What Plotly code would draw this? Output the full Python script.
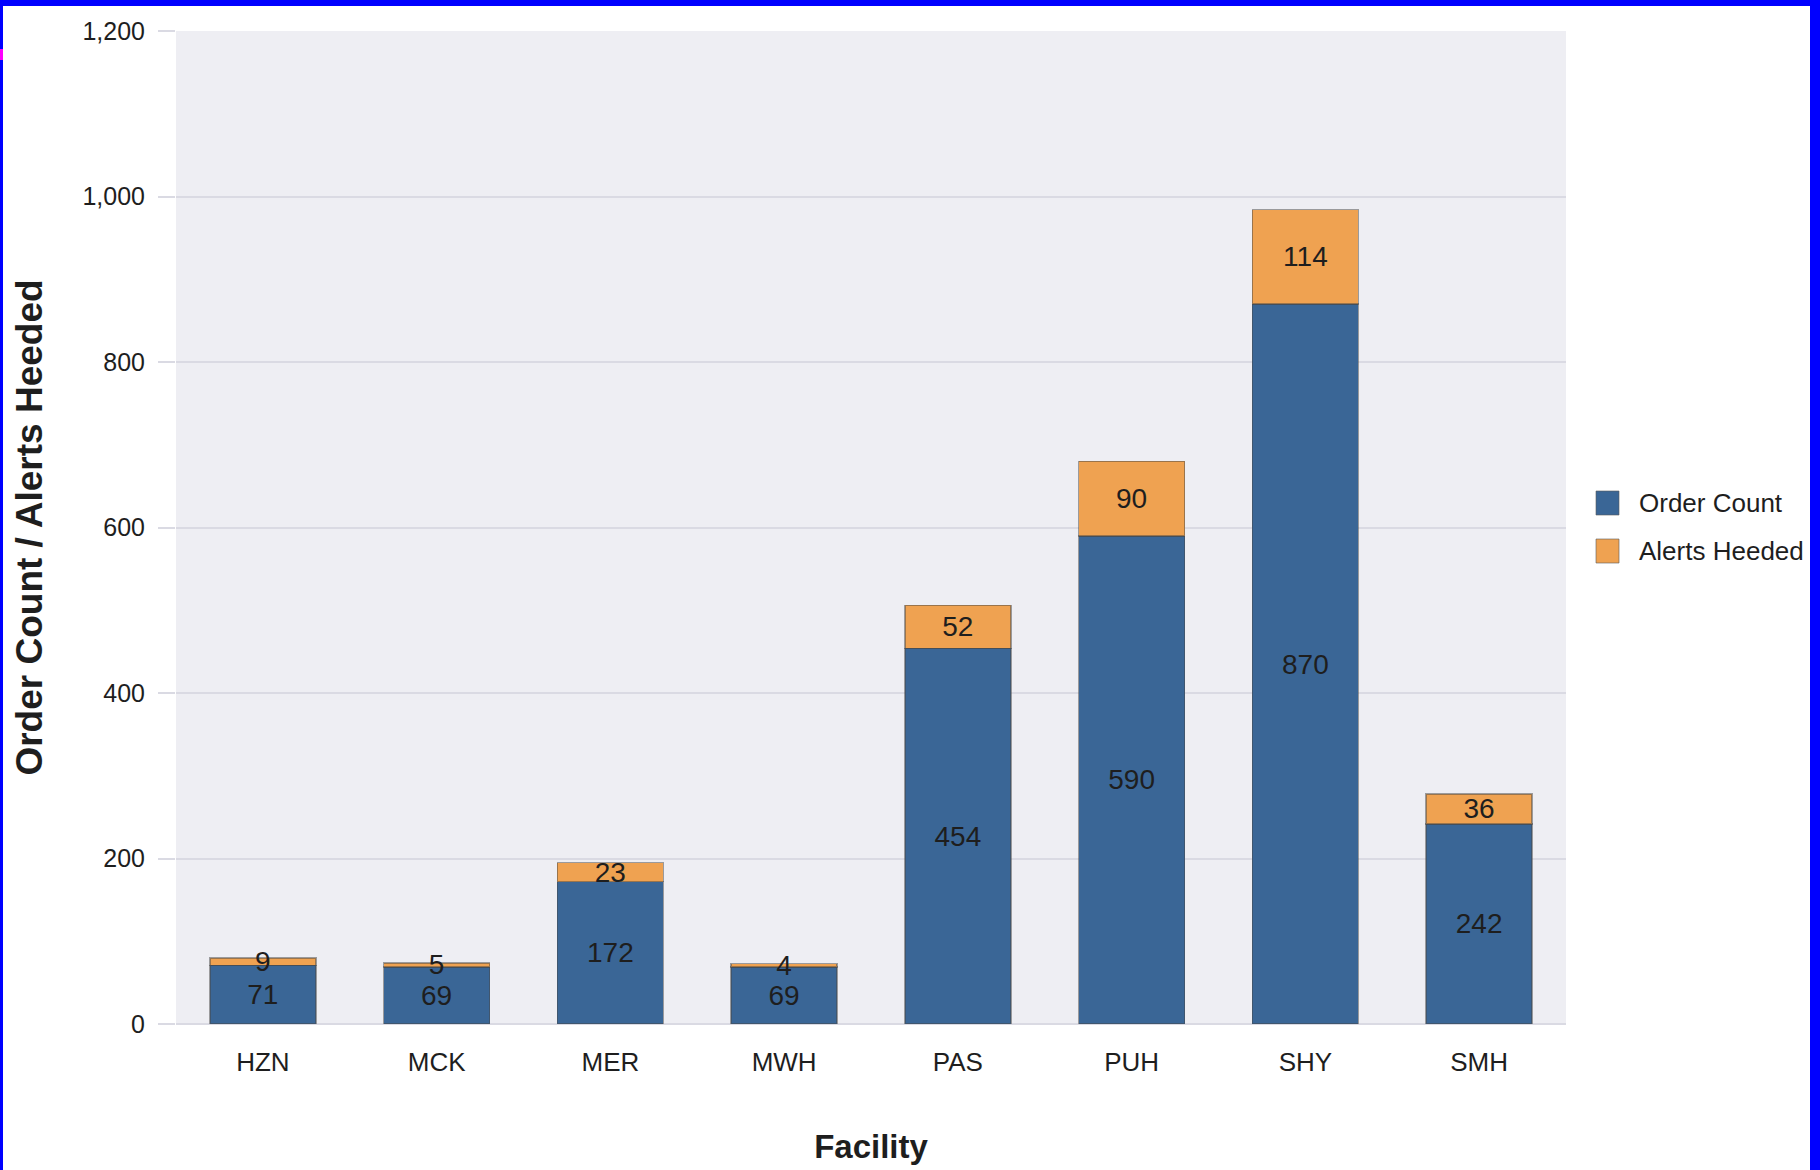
import plotly.graph_objects as go

# Facility order counts with alerts heeded stacked on top
facilities = ["HZN", "MCK", "MER", "MWH", "PAS", "PUH", "SHY", "SMH"]
order_count = [71, 69, 172, 69, 454, 590, 870, 242]
alerts_heeded = [9, 5, 23, 4, 52, 90, 114, 36]

series_names = ["Order Count", "Alerts Heeded"]
y_tick_values = [0, 200, 400, 600, 800, 1000, 1200]

BLUE = "#3a6696"
ORANGE = "#efa251"
PLOT_BG = "#eeeef3"
GRID = "#dadae3"
TEXT = "#1e1e1e"
FONT = "Liberation Sans, Arial, sans-serif"

W, H = 1820, 1170
ML, MR, MT, MB = 176, 254, 31, 146
PW, PH = W - ML - MR, H - MT - MB


def px_x(px):
    return (px - ML) / PW


def px_y(py):
    return (H - MB - py) / PH


fig = go.Figure()

bar_line = dict(color="rgba(70,70,70,0.5)", width=1.5)
label_font = dict(family=FONT, size=28, color=TEXT)

for name, values, color in [
    (series_names[0], order_count, BLUE),
    (series_names[1], alerts_heeded, ORANGE),
]:
    fig.add_trace(go.Bar(
        name=name,
        x=facilities,
        y=values,
        marker=dict(color=color, line=bar_line),
        text=[str(v) for v in values],
        textposition="inside",
        insidetextanchor="middle",
        constraintext="none",
        textangle=0,
        textfont=label_font,
        insidetextfont=label_font,
        cliponaxis=False,
        showlegend=False,
    ))

shapes = []
annotations = []

# Legend drawn as squares with labels beside the plot
legend_rows = [(series_names[0], BLUE, 503), (series_names[1], ORANGE, 551)]
for name, color, cy in legend_rows:
    shapes.append(dict(
        type="rect", xref="paper", yref="paper",
        x0=px_x(1596), x1=px_x(1619), y0=px_y(cy + 12), y1=px_y(cy - 12),
        fillcolor=color, line=dict(color="rgba(90,90,90,0.6)", width=1),
    ))
    annotations.append(dict(
        xref="paper", yref="paper", x=px_x(1637), y=px_y(cy),
        xanchor="left", yanchor="middle", showarrow=False, text=name,
        font=dict(family=FONT, size=26, color=TEXT),
    ))

# Page frame
frame = [
    (0, 0, W, 6, "#0000ff"),
    (0, 0, 3, H, "#0000ff"),
    (1810, 0, W, H, "#0000ff"),
    (0, 49, 3, 60, "#ff00ff"),
]
for x0, y0, x1, y1, c in frame:
    shapes.append(dict(
        type="rect", xref="paper", yref="paper", layer="above",
        x0=px_x(x0), x1=px_x(x1), y0=px_y(y1), y1=px_y(y0),
        fillcolor=c, line=dict(width=0),
    ))

fig.update_layout(
    width=W, height=H,
    margin=dict(l=ML, r=MR, t=MT, b=MB, pad=0, autoexpand=False),
    barmode="stack",
    bargap=0.39,
    paper_bgcolor="white",
    plot_bgcolor=PLOT_BG,
    font=dict(family=FONT, size=25, color=TEXT),
    showlegend=False,
    shapes=shapes,
    annotations=annotations,
    uniformtext=dict(mode=False),
)

fig.update_xaxes(
    title=dict(text="<b>Facility</b>", font=dict(family=FONT, size=33, color=TEXT), standoff=58),
    tickfont=dict(family=FONT, size=26, color=TEXT),
    showgrid=False,
    zeroline=False,
    showline=False,
    ticks="",
    ticklabelstandoff=20,
    automargin=False,
)

fig.update_yaxes(
    title=dict(text="<b>Order Count / Alerts Heeded</b>", font=dict(family=FONT, size=37, color=TEXT), standoff=28),
    range=[0, 1200],
    tickvals=y_tick_values,
    tickformat=",",
    tickfont=dict(family=FONT, size=25, color=TEXT),
    showgrid=True,
    gridcolor=GRID,
    gridwidth=1.5,
    zeroline=True,
    zerolinecolor=GRID,
    zerolinewidth=1.5,
    ticks="outside",
    ticklen=17,
    tickwidth=1.5,
    tickcolor=GRID,
    ticklabelstandoff=8,
    automargin=False,
)

fig.write_html("out.html")
